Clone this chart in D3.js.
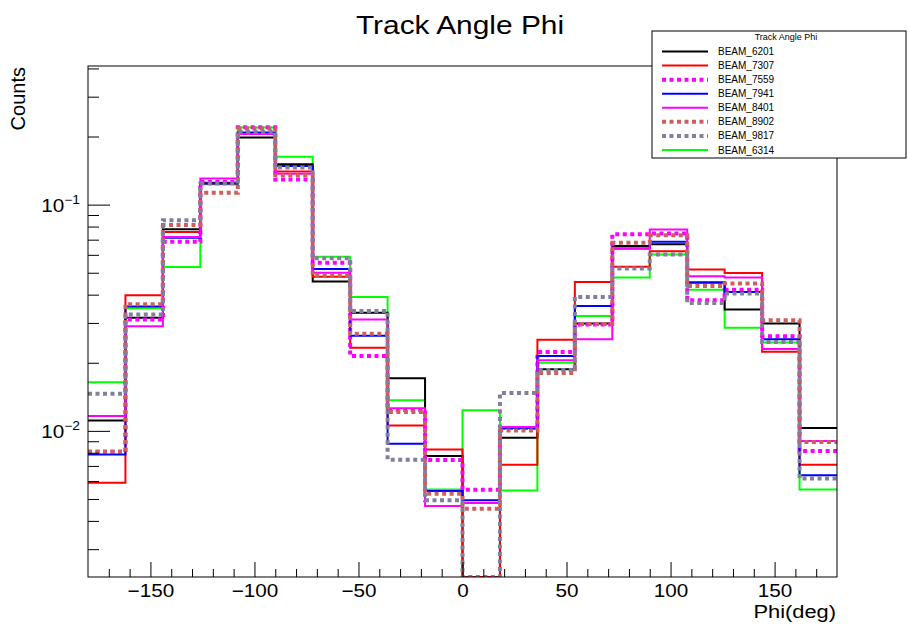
<!doctype html>
<html>
<head>
<meta charset="utf8">
<script src="https://d3js.org/d3.v7.min.js"></script>
<style>
  body { margin: 0; background: #fff; }
  text { font-family: "Liberation Sans", Arial, Helvetica, sans-serif; fill: #000; }
</style>
</head>
<body>
<svg width="908" height="626"></svg>
<script>
// bin edges in degrees
var binEdges = [-180, -162, -144, -126, -108, -90, -72, -54, -36, -18, 0, 18, 36, 54, 72, 90, 108, 126, 144, 162, 180];

// normalised counts per bin (0 = empty bin)
var beam6201 = [0.0111, 0.0316, 0.0779, 0.125, 0.198, 0.151, 0.0457, 0.0333, 0.0171, 0.00775, 0, 0.00933, 0.0187, 0.0298, 0.0657, 0.0669, 0.0453, 0.0344, 0.0298, 0.0103];
var beam7307 = [0.0059, 0.0398, 0.0756, 0.124, 0.205, 0.140, 0.048, 0.0233, 0.01057, 0.00828, 0, 0.00708, 0.0253, 0.0455, 0.0531, 0.0623, 0.0517, 0.0499, 0.0224, 0.00708];
var beam7559 = [0.00806, 0.0311, 0.0685, 0.126, 0.2196, 0.129, 0.0553, 0.0214, 0.01238, 0.00744, 0.00549, 0.0103, 0.0223, 0.0295, 0.074, 0.0746, 0.0378, 0.0421, 0.0262, 0.00814];
var beam7941 = [0.00787, 0.0355, 0.0713, 0.124, 0.2086, 0.148, 0.0519, 0.0263, 0.00878, 0.00542, 0.00493, 0.0103, 0.0214, 0.0356, 0.064, 0.0685, 0.0453, 0.0411, 0.0254, 0.00636];
var beam8401 = [0.01163, 0.029, 0.072, 0.1306, 0.205, 0.137, 0.050, 0.0311, 0.0126, 0.00466, 0.0048, 0.0104, 0.0205, 0.0254, 0.064, 0.0777, 0.0483, 0.0476, 0.023, 0.00902];
var beam8902 = [0.0081, 0.0363, 0.0812, 0.1128, 0.217, 0.135, 0.0485, 0.0269, 0.01211, 0.00527, 0.00453, 0.01005, 0.018, 0.0297, 0.0678, 0.0733, 0.0437, 0.0448, 0.0308, 0.00892];
var beam9817 = [0.0146, 0.0327, 0.0854, 0.124, 0.2099, 0.146, 0.058, 0.0339, 0.00746, 0.00493, 0, 0.01469, 0.0186, 0.0391, 0.0522, 0.0602, 0.0367, 0.0405, 0.0247, 0.00616];
var beam6314 = [0.0164, 0.0348, 0.053, 0.123, 0.219, 0.1627, 0.0588, 0.0391, 0.01364, 0.00551, 0.01233, 0.00545, 0.020, 0.0322, 0.0476, 0.0602, 0.0421, 0.0286, 0.0246, 0.00551];

var legendNames = ["BEAM_6201", "BEAM_7307", "BEAM_7559", "BEAM_7941", "BEAM_8401", "BEAM_8902", "BEAM_9817", "BEAM_6314"];
var xMajorTicks = [-150, -100, -50, 0, 50, 100, 150];
var xMinorTicks = [-170, -160, -140, -130, -120, -110, -90, -80, -70, -60, -40, -30, -20, -10, 10, 20, 30, 40, 60, 70, 80, 90, 110, 120, 130, 140, 160, 170];
var yMajorTicks = [0.01, 0.1];
var yExponents = ["\u22122", "\u22121"];

var series = [
    { name: legendNames[0], values: beam6201, color: "#000000", dotted: false },
    { name: legendNames[1], values: beam7307, color: "#ff0000", dotted: false },
    { name: legendNames[2], values: beam7559, color: "#ff00ff", dotted: true },
    { name: legendNames[3], values: beam7941, color: "#0000ff", dotted: false },
    { name: legendNames[4], values: beam8401, color: "#ff00ff", dotted: false },
    { name: legendNames[5], values: beam8902, color: "#cf5f5c", dotted: true },
    { name: legendNames[6], values: beam9817, color: "#80809e", dotted: true },
    { name: legendNames[7], values: beam6314, color: "#00ff00", dotted: false }
];
// green looks drawn underneath the others
var drawOrder = [7, 0, 1, 2, 3, 4, 5, 6];

var svg = d3.select("svg");
var padL = 88, padT = 66, padR = 837, padB = 577;
var SX = 1.15; // text in the picture is a bit wider than tall

var x = d3.scaleLinear().domain([-180, 180]).range([padL, padR]);
var y = d3.scaleLog().domain([0.00226, 0.41]).range([padB, padT]);

svg.append("rect").attr("width", 908).attr("height", 626).attr("fill", "#fff");

svg.append("defs").append("clipPath").attr("id", "frame")
   .append("rect").attr("x", padL).attr("y", padT - 2).attr("width", padR - padL).attr("height", padB - padT + 2);

function yPos(v) {
    if (v <= 0) return padB;
    return Math.max(padT, Math.min(padB, y(v)));
}

function histPath(vals) {
    var p = "";
    vals.forEach(function(v, i) {
        var yy = yPos(v);
        if (i === 0) p += "M" + x(binEdges[0]) + "," + yy;
        else p += "V" + yy;
        p += "H" + x(binEdges[i + 1]);
    });
    return p;
}

var plot = svg.append("g").attr("clip-path", "url(#frame)");
drawOrder.forEach(function(k) {
    var s = series[k];
    plot.append("path")
        .attr("d", histPath(s.values))
        .attr("fill", "none")
        .attr("stroke", s.color)
        .attr("stroke-width", s.dotted ? 4 : 2)
        .attr("stroke-dasharray", s.dotted ? "4,3.5" : null);
});

// frame
svg.append("rect")
   .attr("x", padL).attr("y", padT).attr("width", padR - padL).attr("height", padB - padT)
   .attr("fill", "none").attr("stroke", "#000").attr("stroke-width", 1);

// x axis ticks
svg.append("g")
   .attr("transform", "translate(0," + padB + ")")
   .call(d3.axisBottom(x).tickValues(xMinorTicks).tickSize(-8).tickFormat(""))
   .call(function(g) { g.select(".domain").remove(); });

var xAxis = svg.append("g")
   .attr("transform", "translate(0," + padB + ")")
   .call(d3.axisBottom(x).tickValues(xMajorTicks).tickSize(-15).tickPadding(0).tickFormat(d3.format("d")))
   .call(function(g) { g.select(".domain").remove(); });
xAxis.selectAll("line").attr("stroke", "#000");
xAxis.selectAll("text")
     .attr("font-size", 18)
     .attr("dy", null)
     .attr("y", 0)
     .attr("transform", "translate(0,20) scale(" + SX + ",1)")
     .style("font-family", "Liberation Sans, Arial, sans-serif");

// y axis ticks
var yMinor = y.ticks().filter(function(t) { return yMajorTicks.indexOf(t) < 0; });
svg.append("g")
   .attr("transform", "translate(" + padL + ",0)")
   .call(d3.axisLeft(y).tickValues(yMinor).tickSize(-11).tickFormat(""))
   .call(function(g) { g.select(".domain").remove(); });
svg.append("g")
   .attr("transform", "translate(" + padL + ",0)")
   .call(d3.axisLeft(y).tickValues(yMajorTicks).tickSize(-22).tickFormat(""))
   .call(function(g) { g.select(".domain").remove(); });

yMajorTicks.forEach(function(t, i) {
    var lab = svg.append("text")
       .attr("transform", "translate(80," + (y(t) + 7) + ") scale(" + SX + ",1)")
       .attr("text-anchor", "end")
       .attr("font-size", 18);
    lab.append("tspan").text("10");
    lab.append("tspan").attr("dy", -8).attr("font-size", 12).text(yExponents[i]);
});

// titles
svg.append("text")
   .attr("transform", "translate(460,34) scale(" + SX + ",1)")
   .attr("text-anchor", "middle")
   .attr("font-size", 26)
   .text("Track Angle Phi");

svg.append("text")
   .attr("transform", "translate(836,618) scale(" + SX + ",1)")
   .attr("text-anchor", "end")
   .attr("font-size", 19)
   .text("Phi(deg)");

svg.append("text")
   .attr("transform", "translate(25,67) rotate(-90)")
   .attr("text-anchor", "end")
   .attr("font-size", 20)
   .text("Counts");

// legend
var legend = svg.append("g");
legend.append("rect")
   .attr("x", 652).attr("y", 31).attr("width", 254).attr("height", 127)
   .attr("fill", "#fff").attr("stroke", "#000").attr("stroke-width", 1);
legend.append("text")
   .attr("x", 786).attr("y", 40)
   .attr("text-anchor", "middle")
   .attr("font-size", 9)
   .text("Track Angle Phi");

var rowY = d3.scaleLinear().domain([0, 7]).range([51.5, 150]);
series.forEach(function(s, i) {
    legend.append("line")
        .attr("x1", 662).attr("x2", 708)
        .attr("y1", rowY(i)).attr("y2", rowY(i))
        .attr("stroke", s.color)
        .attr("stroke-width", s.dotted ? 4 : 2)
        .attr("stroke-dasharray", s.dotted ? "4,3.5" : null);
    legend.append("text")
        .attr("x", 718).attr("y", rowY(i) + 3.5)
        .attr("font-size", 10)
        .text(s.name);
});
</script>
</body>
</html>
